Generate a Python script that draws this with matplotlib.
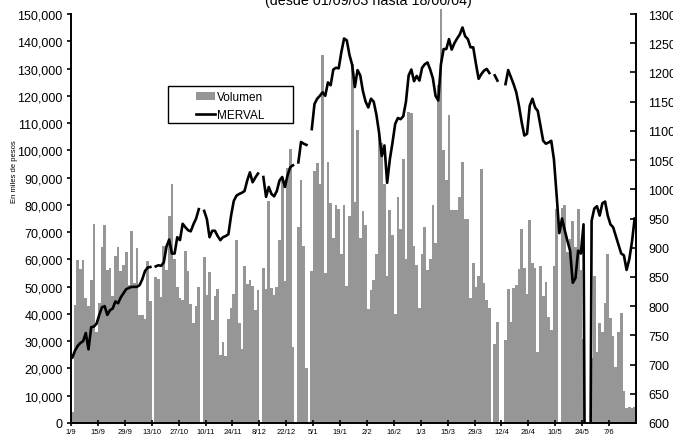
import numpy as np
import matplotlib.pyplot as plt
from matplotlib.ticker import FuncFormatter
from matplotlib.patches import Rectangle

plt.rcParams['font.family'] = ['Liberation Sans', 'DejaVu Sans']

nan = np.nan

# Daily traded volume (thousands of pesos), one value per trading day 01/09/03 - 18/06/04
volumen = [
    4, 43.2, 59.6, 56.5, 59.8, 46, 42.8, 52.5, 73, 33.3,
    44, 64.7, 72.6, 56, 56.8, 46.7, 61.4, 64.5, 55.8, 58,
    62.8, 50.7, 70.5, 51.3, 64.1, 39.5, 39.5, 38.3, 59.5, 44.9,
    0, 53.4, 52.9, 46.1, 65, 56, 76, 87.6, 60, 50,
    46, 45, 63, 55.6, 43.7, 36.6, 42.8, 49.8, 0, 61,
    47, 55.5, 37.6, 46.7, 49.3, 24.8, 29.7, 24.6, 38.2, 42,
    47.4, 67.2, 36.5, 27, 57.7, 51, 52.5, 50.4, 41.6, 48.7,
    0, 57, 49, 81.5, 49.5, 47, 50, 67, 89, 52,
    93.5, 100.5, 28, 0, 72, 89, 65, 20.3, 0, 55.8,
    92.4, 95.4, 87.6, 135, 55, 95.8, 80.8, 68, 80, 78.4,
    62, 80, 50.4, 76, 131.6, 81, 107.3, 67.7, 77.7, 72.5,
    41.8, 48.8, 52.6, 62, 107.4, 102.7, 87.6, 54, 78, 68.8,
    39.9, 82.8, 71, 96.7, 60, 114, 113.8, 65, 58, 42,
    62, 72, 56, 60, 80, 66, 124, 152, 100, 89,
    113, 78, 78, 78, 82.8, 95.6, 75, 75, 46, 58.6,
    50, 54, 93, 51.3, 45, 42, 0, 29, 37, 0,
    0, 30.4, 49, 37, 49.6, 50.5, 56.6, 71, 57, 47.2,
    74.5, 58.6, 57, 25.9, 57.4, 46.6, 51.6, 39, 34, 57.4,
    78.4, 0, 78.7, 80, 62.6, 67.4, 74.2, 64.4, 78.4, 56,
    30.8, 0, 0, 24, 54, 26, 36.5, 33.5, 44, 62,
    38.5, 32, 20.4, 33.2, 40.4, 11.9, 5.5, 6, 5.5, 6,
]

# MERVAL index, same days (nan = no quote)
merval = [
    712, 724, 732, 737, 740, 754, 726, 764, 765, 770,
    785, 798, 800, 785, 793, 796, 808, 805, 815, 822,
    829, 831, 833, 833, 833, 836, 846, 860, 866, 867,
    nan, 868, 870, 869, 875, 902, 914, 890, 890, 918,
    913, 941, 935, 930, 928, 940, 950, 966, nan, 963,
    949, 918, 929, 929, 920, 913, 918, 920, 923, 955,
    980, 989, 992, 994, 997, 1015, 1029, 1012, 1020, 1027,
    nan, 1021, 987, 1004, 992, 988, 997, 1015, 1021, 1004,
    1024, 1038, 1041, nan, 1046, 1081, 1078, 1076, nan, 1103,
    1146, 1155, 1160, 1166, 1160, 1183, 1178, 1205, 1208, 1207,
    1235, 1258, 1255, 1230, 1213, 1175, 1204, 1195, 1168, 1150,
    1140, 1155, 1150, 1128, 1097, 1057, 1075, 1011, 1051, 1080,
    1112, 1122, 1120, 1125, 1150, 1195, 1205, 1185, 1194, 1186,
    1208, 1214, 1217, 1205, 1190, 1160, 1152, 1214, 1240, 1240,
    1257, 1239, 1250, 1258, 1265, 1277, 1262, 1257, 1243, 1243,
    1215, 1189, 1197, 1203, 1206, 1199, nan, 1195, 1186, nan,
    nan, 1180, 1204, 1192, 1180, 1166, 1143, 1115, 1092, 1095,
    1143, 1155, 1140, 1134, 1109, 1083, 1078, 1080, 1083, 1051,
    990, 925, 950, 930, 912, 895, 840, 848, 895, 890,
    940, 0, 0, 946, 967, 971, 955, 976, 979, 955,
    940, 935, 920, 905, 890, 887, 862, 880, 910, 950,
]

fechas = ['1/9', '15/9', '29/9', '13/10', '27/10', '10/11', '24/11', '8/12',
          '22/12', '5/1', '19/1', '2/2', '16/2', '1/3', '15/3', '29/3',
          '12/4', '26/4', '10/5', '24/5', '7/6']

x = np.arange(len(volumen))
vol = np.array(volumen) * 1000

fig = plt.figure(figsize=(6.73, 4.35), dpi=100)
ax = fig.add_axes([71/673, 11/435, 565/673, 409/435])

bars = ax.bar(x, vol, width=1.0, color='#969696', linewidth=0, label='Volumen')
for b in bars:
    b.set_clip_on(False)

ax.set_xlim(-0.5, len(x) - 0.5)
ax.set_ylim(0, 150000)
ax.set_yticks(np.arange(0, 150001, 10000))
ax.yaxis.set_major_formatter(FuncFormatter(lambda v, p: '{:,.0f}'.format(v)))
ax.set_xticks(np.arange(len(fechas)) * 10 - 0.5)
ax.set_xticklabels(fechas)
ax.tick_params(axis='y', direction='out', length=3, width=1.2, labelsize=9, pad=3)
ax.tick_params(axis='x', direction='inout', length=5, width=1.2, labelsize=5.5, pad=1.2)
ax.spines['top'].set_visible(False)
ax.spines['right'].set_visible(False)
for s in ['left', 'bottom']:
    ax.spines[s].set_linewidth(1.4)

ax2 = ax.twinx()
ax2.plot(x, merval, color='black', lw=1.9, label='MERVAL')
ax2.set_ylim(600, 1300)
ax2.set_yticks(np.arange(600, 1301, 50))
ax2.tick_params(axis='y', direction='in', length=4, width=1.2, labelsize=9, pad=9)
ax2.spines['top'].set_visible(False)
ax2.spines['left'].set_visible(False)
ax2.spines['bottom'].set_visible(False)
ax2.spines['right'].set_linewidth(1.4)

# legend box (wide Excel-style frame) with the entries inside
fig.patches.append(Rectangle((168/673, 1 - 124/435), 125/673, 37/435,
                             transform=fig.transFigure, facecolor='white',
                             edgecolor='black', lw=1.0, zorder=3))
h1, l1 = ax.get_legend_handles_labels()
h2, l2 = ax2.get_legend_handles_labels()
lg = fig.legend(h1 + h2, l1 + l2, loc='upper left',
                bbox_to_anchor=(196/673, 1 - 92/435), bbox_transform=fig.transFigure,
                fontsize=8.5, frameon=False, handlelength=1.65, handletextpad=0.15,
                labelspacing=0.55, borderpad=0, borderaxespad=0)
lg.set_zorder(4)

fig.text(368/673, 1 - 5.5/435, '(desde 01/09/03 hasta 18/06/04)',
         ha='center', va='baseline', fontsize=10.3)
fig.text(14/673, 1 - 172/435, 'En miles de pesos', rotation=90,
         ha='center', va='center', fontsize=5.5)

fig.savefig('out.png', dpi=100)
